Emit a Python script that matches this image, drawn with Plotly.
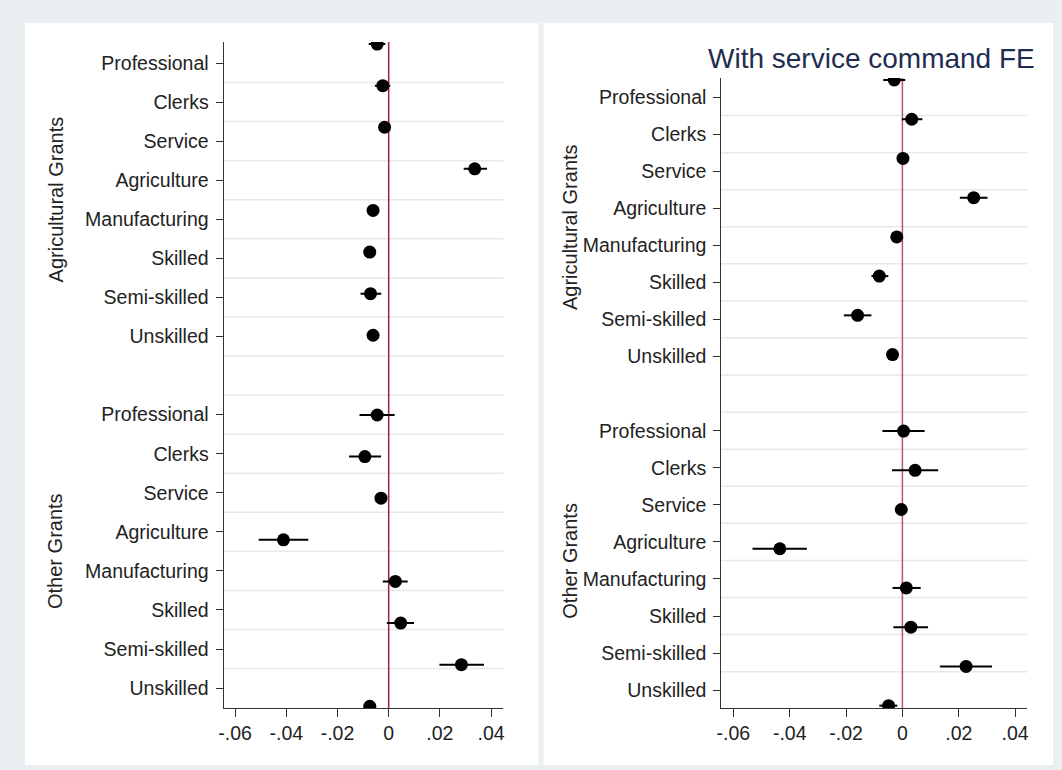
import plotly.graph_objects as go

# ---------------- data ----------------
occupations = ["Professional", "Clerks", "Service", "Agriculture",
               "Manufacturing", "Skilled", "Semi-skilled", "Unskilled"]
group_names = ["Agricultural Grants", "Other Grants"]

# Left panel (baseline)
left_agri_coef = [-0.0045, -0.0023, -0.0016, 0.0336, -0.0061, -0.0074, -0.0071, -0.0061]
left_agri_lo   = [-0.0078, -0.0054, -0.0030, 0.0293, -0.0076, -0.0090, -0.0110, -0.0076]
left_agri_hi   = [-0.0013,  0.0006, -0.0002, 0.0384, -0.0046, -0.0058, -0.0029, -0.0046]
left_other_coef = [-0.0045, -0.0093, -0.0030, -0.0411, 0.0026, 0.0047, 0.0284, -0.0074]
left_other_lo   = [-0.0114, -0.0155, -0.0045, -0.0508, -0.0023, -0.0007, 0.0198, -0.0097]
left_other_hi   = [ 0.0023, -0.0030, -0.0015, -0.0314, 0.0074, 0.0099, 0.0372, -0.0049]

# Right panel (with service command FE)
right_agri_coef = [-0.0029, 0.0033, 0.0002, 0.0253, -0.0020, -0.0082, -0.0159, -0.0035]
right_agri_lo   = [-0.0068, -0.0002, -0.0012, 0.0204, -0.0035, -0.0110, -0.0208, -0.0050]
right_agri_hi   = [ 0.0010, 0.0071, 0.0016, 0.0302, -0.0005, -0.0050, -0.0110, -0.0020]
right_other_coef = [0.0004, 0.0045, -0.0004, -0.0435, 0.0014, 0.0030, 0.0226, -0.0049]
right_other_lo   = [-0.0071, -0.0037, -0.0019, -0.0532, -0.0035, -0.0032, 0.0133, -0.0082]
right_other_hi   = [0.0079, 0.0127, 0.0011, -0.0339, 0.0065, 0.0091, 0.0318, -0.0018]

x_tickvals = [-0.06, -0.04, -0.02, 0, 0.02, 0.04]
x_ticktext = ["-.06", "-.04", "-.02", "0", ".02", ".04"]

panel_title = "With service command FE"

# ---------------- layout helpers ----------------
W, H = 1062, 770
def px(x): return x / W
def py(y): return 1 - y / H

panels = [
    dict(coefs=[(left_agri_coef, left_agri_lo, left_agri_hi),
                (left_other_coef, left_other_lo, left_other_hi)],
         xdom=(220, 501.7), ydom=(42, 708), xr=(-0.0645, 0.0448),
         ur=(17.51, 0.462), pt0=0.514, pt1=10.01, step=1.065,
         zcol="#A21D4E", gx=51, bg=(20, 537)),
    dict(coefs=[(right_agri_coef, right_agri_lo, right_agri_hi),
                (right_other_coef, right_other_lo, right_other_hi)],
         xdom=(721, 1029), ydom=(78, 708), xr=(-0.0643, 0.0443),
         ur=(17.48, 0.487), pt0=0.541, pt1=10.01, step=1.058,
         zcol="#B5527F", gx=569, bg=(542, 1055)),
]

n = len(occupations)
tick_pos = [i + 1 for i in range(n)] + [i + 2 + n for i in range(n)]
tick_lab = occupations + occupations

fig = go.Figure()
shapes = []
annotations = []
FONT = "Liberation Sans, Arial, sans-serif"

for pi, p in enumerate(panels):
    sfx = "" if pi == 0 else str(pi + 1)
    xa, ya = "x" + sfx, "y" + sfx
    # panel background
    shapes.append(dict(type="rect", xref="paper", yref="paper",
                       x0=px(p["bg"][0]), x1=px(p["bg"][1]), y0=py(765), y1=py(23),
                       fillcolor="white", line=dict(width=0), layer="below"))
    # gridlines between rows
    for g in range(1, 2 * n + 1):
        shapes.append(dict(type="line", xref=xa + " domain", yref=ya,
                           x0=0, x1=1, y0=g + 0.5, y1=g + 0.5,
                           line=dict(color="#E4E9EB", width=1.5), layer="below"))
    # zero line
    shapes.append(dict(type="line", xref=xa, yref=ya + " domain",
                       x0=0, x1=0, y0=0, y1=1,
                       line=dict(color=p["zcol"], width=1.5), layer="below"))
    for gi, (c, lo, hi) in enumerate(p["coefs"]):
        start = p["pt0"] if gi == 0 else p["pt1"]
        ys = [start + p["step"] * k for k in range(n)]
        fig.add_trace(go.Scatter(
            x=c, y=ys, mode="markers", xaxis=xa, yaxis=ya,
            marker=dict(color="black", size=13),
            error_x=dict(type="data", symmetric=False,
                         array=[h - v for h, v in zip(hi, c)],
                         arrayminus=[v - l for v, l in zip(c, lo)],
                         color="black", thickness=2, width=0),
            showlegend=False, hoverinfo="skip"))
        annotations.append(dict(text=group_names[gi], xref="paper", yref=ya,
                                x=px(p["gx"]), y=4.5 if gi == 0 else 13.5,
                                textangle=-90, showarrow=False,
                                xanchor="center", yanchor="middle",
                                font=dict(size=20, color="#222222", family=FONT)))
    axcommon = dict(showgrid=False, zeroline=False, showline=True,
                    linecolor="#333333", linewidth=1, ticks="outside",
                    tickcolor="#333333", tickwidth=1,
                    tickfont=dict(size=19.5, color="#222222", family=FONT))
    fig.update_layout(**{
        ("xaxis" + sfx): dict(domain=[px(p["xdom"][0]), px(p["xdom"][1])],
                              range=list(p["xr"]), anchor=ya,
                              tickvals=x_tickvals, ticktext=x_ticktext,
                              ticklen=8, **axcommon),
        ("yaxis" + sfx): dict(domain=[py(p["ydom"][1]), py(p["ydom"][0])],
                              range=list(p["ur"]), anchor=xa,
                              tickvals=tick_pos, ticktext=tick_lab,
                              ticklen=7, ticklabelstandoff=3, **axcommon),
    })

annotations.append(dict(text=panel_title, xref="paper", yref="paper",
                        x=px(1039), y=py(58), xanchor="right", yanchor="middle",
                        showarrow=False,
                        font=dict(size=28, color="#1E2D4F", family=FONT)))

fig.update_layout(width=W, height=H, margin=dict(l=0, r=0, t=0, b=0),
                  paper_bgcolor="#EAF0F2", plot_bgcolor="rgba(0,0,0,0)",
                  shapes=shapes, annotations=annotations, showlegend=False,
                  font=dict(family=FONT))

fig.write_html("out.html")
